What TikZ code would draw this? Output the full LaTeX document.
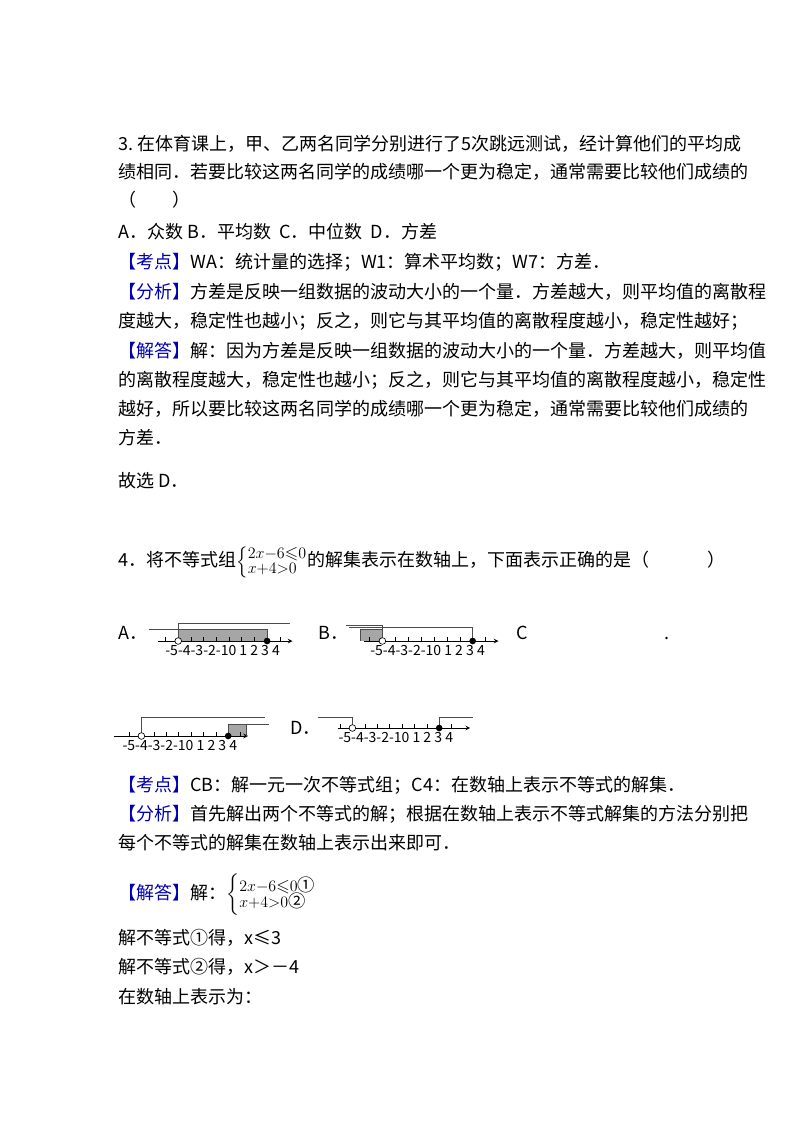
\documentclass[tikz,border=0pt]{standalone}
\usepackage{amsmath,amssymb}
\usepackage{fontspec}
\setmainfont{Noto Sans CJK SC}
\begin{document}
\begin{tikzpicture}[x=0.75pt,y=-0.75pt,
  t/.style={anchor=base west,inner sep=0,font=\fontsize{13.5}{16}\selectfont},
  ax/.style={line width=0.6pt,-stealth},
  gl/.style={line width=0.7pt,gray!60!black},
  op/.style={draw,fill=white,circle,inner sep=0,minimum size=5pt,line width=0.5pt},
  cl/.style={fill=black,circle,inner sep=0,minimum size=5pt},
  lab/.style={anchor=north,inner sep=0,font=\fontsize{10.5}{12}\selectfont}]
\useasboundingbox (0,0) rectangle (800,1132);
\node[t] (l1) at (118,150) {3.\ 在体育课上，甲、乙两名同学分别进行了5次跳远测试，经计算他们的平均成};
\node[t] (l2) at (118,178) {绩相同．若要比较这两名同学的成绩哪一个更为稳定，通常需要比较他们成绩的};
\node[t] (l3) at (118,206) {（\hspace{2em}）};
\node[t] (l4) at (118,238) {A．众数 B．平均数\ \ C．中位数\ \ D．方差};
\node[t] (l5) at (118,268) {\textcolor{blue!70!black}{【考点】}WA：统计量的选择；W1：算术平均数；W7：方差．};
\node[t] (l6) at (118,298) {\textcolor{blue!70!black}{【分析】}方差是反映一组数据的波动大小的一个量．方差越大，则平均值的离散程};
\node[t] (l7) at (118,327) {度越大，稳定性也越小；反之，则它与其平均值的离散程度越小，稳定性越好；};
\node[t] (l8) at (118,357) {\textcolor{blue!70!black}{【解答】}解：因为方差是反映一组数据的波动大小的一个量．方差越大，则平均值};
\node[t] (l9) at (118,386) {的离散程度越大，稳定性也越小；反之，则它与其平均值的离散程度越小，稳定性};
\node[t] (l10) at (118,415) {越好，所以要比较这两名同学的成绩哪一个更为稳定，通常需要比较他们成绩的};
\node[t] (l11) at (118,444) {方差．};
\node[t] (l12) at (118,487) {故选 D．};
\node[t] (q4) at (118,566) {4．将不等式组{\fontsize{13}{14}\selectfont$\left\{\begin{array}{@{}l@{}}2x{-}6{\leqslant}0\\[-3pt] x{+}4{>}0\end{array}\right.$}的解集表示在数轴上，下面表示正确的是（\hspace{3.2em}）};
\node[t] (oa) at (118,639) {A．};
\node[t] (ob) at (318,639) {B．};
\node[t] (oc) at (516,639) {C};
\node[t] (odot) at (664,639) {.};
\node[t] (od) at (290,734) {D．};
% A
\begin{scope}[shift={(229,641)},x=12.7*0.75pt]
 \fill[gray!70] (-4,-12) rectangle (3,0);
 \draw[ax] (-5.6,0) -- (5,0);
 \foreach \i in {-5,...,4} \draw[line width=0.4pt] (\i,0) -- (\i,-4);
 \draw[gl] (-6.3,-12) -- (3,-12) -- (3,0);
 \draw[gl] (-4,0) -- (-4,-18) -- (4.8,-18);
 \node[cl] (a3) at (3,0) {};
 \node[op] (a4) at (-4,0) {};
 \node[lab] (la) at (-0.5,4) {-5-4-3-2-10 1 2 3 4};
\end{scope}
% B
\begin{scope}[shift={(434,641)},x=12.9*0.75pt]
 \fill[gray!70] (-5.7,-12) rectangle (-4,0);
 \draw[ax] (-5.4,0) -- (5,0);
 \foreach \i in {-5,...,4} \draw[line width=0.4pt] (\i,0) -- (\i,-4);
 \draw[gl] (-5.7,0) -- (-5.7,-12) -- (-4,-12);
 \draw[gl] (-6.8,-16) -- (-4,-16) -- (-4,0);
 \draw[gl] (-6.6,-13.5) -- (3,-13.5) -- (3,0);
 \node[cl] (b3) at (3,0) {};
 \node[op] (b4) at (-4,0) {};
 \node[lab] (lb) at (-0.5,4) {-5-4-3-2-10 1 2 3 4};
\end{scope}
% C
\begin{scope}[shift={(191,736)},x=12.4*0.75pt]
 \fill[gray!70] (3,-12) rectangle (4.5,0);
 \draw[ax] (-6.2,0) -- (4.6,0);
 \foreach \i in {-5,...,4} \draw[line width=0.4pt] (\i,0) -- (\i,-4);
 \draw[gl] (3,0) -- (3,-12) -- (6.3,-12);
 \draw[gl] (4.5,-12) -- (4.5,0);
 \draw[gl] (-4,0) -- (-4,-19) -- (6,-19);
 \node[cl] (c3) at (3,0) {};
 \node[op] (c4) at (-4,0) {};
 \node[lab] (lc) at (-0.9,4) {-5-4-3-2-10 1 2 3 4};
\end{scope}
% D
\begin{scope}[shift={(402,728)},x=12.4*0.75pt]
 \draw[ax] (-5.2,0) -- (5.5,0);
 \foreach \i in {-5,...,4} \draw[line width=0.4pt] (\i,0) -- (\i,-4);
 \draw[gl] (-6.8,-11) -- (-4,-11) -- (-4,0);
 \draw[gl] (3,0) -- (3,-11) -- (5.7,-11);
 \node[cl] (d3) at (3,0) {};
 \node[op] (d4) at (-4,0) {};
 \node[lab] (ld) at (-0.5,4) {-5-4-3-2-10 1 2 3 4};
\end{scope}
\node[t] (m1) at (118,791) {\textcolor{blue!70!black}{【考点】}CB：解一元一次不等式组；C4：在数轴上表示不等式的解集．};
\node[t] (m2) at (118,820) {\textcolor{blue!70!black}{【分析】}首先解出两个不等式的解；根据在数轴上表示不等式解集的方法分别把};
\node[t] (m3) at (118,849) {每个不等式的解集在数轴上表示出来即可．};
\node[t] (m4) at (118,899) {\textcolor{blue!70!black}{【解答】}解：{\fontsize{13}{14}\selectfont$\left\{\begin{array}{@{}l@{}}2x{-}6{\leqslant}0\text{①}\\[-3pt] x{+}4{>}0\text{②}\end{array}\right.$}};
\node[t] (m5) at (118,944) {解不等式①得，x≤3};
\node[t] (m6) at (118,973) {解不等式②得，x＞－4};
\node[t] (m7) at (118,1003) {在数轴上表示为：};
\end{tikzpicture}
\end{document}
